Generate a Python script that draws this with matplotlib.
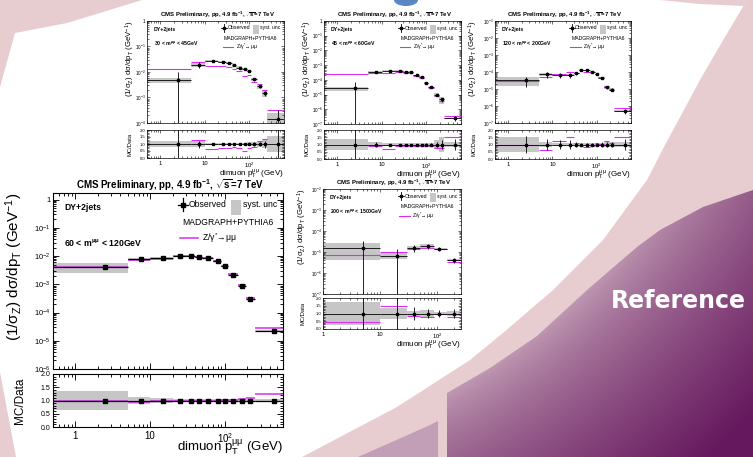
import numpy as np
import matplotlib
matplotlib.use("Agg")
import matplotlib.pyplot as plt
from matplotlib.patches import Polygon, Rectangle, Ellipse
from matplotlib.ticker import FuncFormatter, LogLocator, MultipleLocator, NullFormatter, FixedLocator

plt.rcParams['font.family'] = ['Liberation Sans', 'DejaVu Sans']
plt.rcParams['mathtext.fontset'] = 'custom'
plt.rcParams['mathtext.rm'] = 'Liberation Sans'
plt.rcParams['mathtext.it'] = 'Liberation Sans:italic'
plt.rcParams['mathtext.bf'] = 'Liberation Sans:bold'
plt.rcParams['mathtext.default'] = 'regular'

# ---- values -------------------------------------------------------------
pt_edges = [0, 5, 10, 20, 30, 40, 50, 70, 90, 110, 150, 190, 250, 600]
pt_centers = [2.5, 7.5, 15, 25, 35, 45, 60, 80, 100, 130, 170, 220, 450]

# 60 < m < 120 GeV (big plot)
xsec_60_120 = [4.1e-3, 7.6e-3, 8.3e-3, 9.8e-3, 9.8e-3, 9.2e-3, 8.5e-3, 6.7e-3, 4.3e-3, 2.2e-3, 8.9e-4, 2.9e-4, 2.3e-5]
mc_60_120 = [1.0, 0.94, 0.98, 1.0, 1.0, 1.0, 1.0, 1.0, 1.02, 1.03, 1.07, 1.10, 1.24]
syst_60_120 = [0.37, 0.12, 0.08, 0.05, 0.05, 0.05, 0.05, 0.05, 0.05, 0.05, 0.05, 0.05, 0.05]
stat_60_120 = [0.03, 0.03, 0.02, 0.02, 0.02, 0.02, 0.02, 0.02, 0.02, 0.03, 0.03, 0.04, 0.06]

# 30 < m < 45 GeV
xsec_30_45 = [4.9e-3, 1.9e-2, 2.7e-2, 2.4e-2, 2.2e-2, 1.8e-2, 1.5e-2, 1.3e-2, 1.1e-2, 5.2e-3, 2.8e-3, 1.5e-3, 1.5e-4]
mc_30_45 = [2.6, 1.31, 0.64, 0.71, 0.71, 0.76, 0.71, 0.52, 0.69, 0.81, 1.2, 1.36, 2.2]
syst_30_45 = [0.22, 0.2, 0.1, 0.1, 0.1, 0.1, 0.1, 0.1, 0.12, 0.12, 0.2, 0.3, 0.6]
stat_30_45 = [1.1, 0.25, 0.05, 0.05, 0.05, 0.05, 0.06, 0.08, 0.1, 0.12, 0.15, 0.25, 1.2]

# 45 < m < 60 GeV
xsec_45_60 = [2.6e-5, 3.5e-4, 4.3e-4, 4.1e-4, 3.5e-4, 3.5e-4, 2.0e-4, 1.6e-4, 6.6e-5, 3.1e-5, 1.0e-5, 4.7e-6, 2.4e-7]
mc_45_60 = [9.0, 0.88, 0.7, 0.88, 0.88, 0.88, 0.88, 0.9, 0.9, 0.9, 0.76, 0.76, 1.5]
syst_45_60 = [0.35, 0.15, 0.1, 0.1, 0.1, 0.1, 0.1, 0.1, 0.1, 0.12, 0.3, 0.5, 0.15]
stat_45_60 = [1.8, 0.2, 0.05, 0.05, 0.05, 0.05, 0.05, 0.06, 0.08, 0.1, 0.15, 0.3, 0.35]

# 120 < m < 200 GeV
xsec_120_200 = [3.3e-5, 7.4e-5, 6.4e-5, 6.4e-5, 8.4e-5, 1.4e-4, 1.25e-4, 1.05e-4, 7.4e-5, 4.7e-5, 1.25e-5, 9.2e-6, 4.9e-7]
mc_120_200 = [0.95, 0.65, 1.25, 1.5, 1.1, 0.88, 0.85, 0.9, 1.1, 1.05, 1.25, 1.1, 1.5]
syst_120_200 = [0.55, 0.2, 0.12, 0.12, 0.1, 0.08, 0.08, 0.08, 0.1, 0.1, 0.2, 0.2, 0.15]
stat_120_200 = [0.6, 0.4, 0.3, 0.3, 0.2, 0.1, 0.1, 0.1, 0.12, 0.15, 0.2, 0.2, 0.35]

# 200 < m < 1500 GeV (coarser bins)
pt_edges_hi = [0, 10, 30, 50, 90, 150, 260]
pt_centers_hi = [5, 20, 40, 70, 110, 200]
xsec_200_1500 = [1.6e-5, 6.8e-6, 1.6e-5, 1.95e-5, 1.4e-5, 4.2e-6]
mc_200_1500 = [0.45, 1.5, 0.83, 0.76, 0.95, 0.76]
syst_200_1500 = [0.75, 0.35, 0.15, 0.2, 0.1, 0.15]
stat_200_1500 = [1.0, 1.1, 0.4, 0.3, 0.2, 0.3]

TITLE = r"CMS Preliminary, pp, 4.9 fb$^{-1}$, $\sqrt{s}$=7 TeV"
GRAY = '#c6c6c6'
MAG = '#d92ef2'
PINK = '#e8cdd0'

W, H = 753, 457
fig = plt.figure(figsize=(W / 100, H / 100), dpi=100)
fig.patch.set_facecolor('white')

# ---- slide background -----------------------------------------------------
bg = fig.add_axes([0, 0, 1, 1], zorder=0)
bg.add_patch(Polygon([(0, 0), (142, 0), (100, 13), (67, 23), (15, 33), (0, 87)], fc=PINK, ec='none'))
bg.add_patch(Polygon([(0, 372), (16, H), (0, H)], fc=PINK, ec='none'))
bg.add_patch(Polygon([(660, 0), (747, 0), (744, 6), (700, 4)], fc=PINK, ec='none'))
arc_in = [(747, 0), (722, 42), (700, 80), (665, 145), (647, 180), (603, 240), (553, 290),
          (503, 333), (470, 360), (397, 407), (302, H)]
bg.add_patch(Polygon(arc_in + [(W, H), (W, 0)], fc=PINK, ec='none'))
bg.add_patch(Polygon([(358, H), (428, 426), (438, 421), (438, H)], fc='#c29fb6', ec='none'))
arc_out = [(W, 190), (703, 207), (660, 230), (637, 247), (587, 290), (537, 336), (490, 368),
           (447, 393), (447, H), (W, H)]
purple = Polygon(arc_out, fc='none', ec='none')
bg.add_patch(purple)
gx, gy = np.meshgrid(np.arange(440, W + 1), np.arange(185, H + 1))
t = np.clip((np.hypot(gx - 150, gy + 150) - 615) / 210, 0, 1) ** 0.7
c0 = np.array([196, 160, 183]) / 255
c1 = np.array([102, 24, 94]) / 255
img = c0 + (c1 - c0) * t[..., None]
im = bg.imshow(img, extent=(440, W + 1, H + 1, 185), interpolation='bilinear', zorder=1)
im.set_clip_path(purple)
bg.add_patch(Ellipse((406, 0), 24, 12, fc='#5a86c4', ec='none'))
bg.text(678, 301, 'Reference', color='white', fontsize=17, fontweight='bold',
        family='DejaVu Sans', ha='center', va='center', zorder=3)
bg.set_aspect('auto')
bg.set_xlim(0, W)
bg.set_ylim(H, 0)
bg.axis('off')


def px_rect(x0, y0, x1, y1):
    return [x0 / W, 1 - y1 / H, (x1 - x0) / W, (y1 - y0) / H]


def log_fmt(v, pos):
    e = int(round(np.log10(v)))
    if e == 0:
        return '1'
    if e == 1:
        return '10'
    return r'$10^{%d}$' % e


BIG = dict(title=7, tick=7, ytick=5.5, rtick=5, xlabel=9.5, ylabel=11, mcdata=8.5, legend=6.2,
           lw=0.9, ms=2.6, mlw=1.1, tl=4, spine=0.8, pad=3, ypad=2)
SMALL = dict(title=4.3, tick=4.2, ytick=3.3, rtick=3, xlabel=5.8, ylabel=5.6, mcdata=4.2, legend=3.7,
             lw=0.6, ms=1.6, mlw=0.8, tl=2.4, spine=0.5, pad=2, ypad=1.2)


def cms_plot(up, lo, edges, xs, ys, mc, syst, stat, ylim, xlim, mass, st, ylab_dx, mc_dx, mass_y):
    ax = fig.add_axes(px_rect(*up))
    rx = fig.add_axes(px_rect(*lo))
    ed = np.clip(np.asarray(edges, float), xlim[0], xlim[1])
    left, right = ed[:-1], ed[1:]
    xs = np.asarray(xs, float)
    ys = np.asarray(ys, float)
    mc = np.asarray(mc, float)
    syst = np.asarray(syst, float)
    stat = np.asarray(stat, float)
    floor = ylim[0] * 0.1

    for l, r, y, sy in zip(left, right, ys, syst):
        ax.fill_between([l, r], max(y * (1 - sy), floor), y * (1 + sy), color=GRAY, lw=0, zorder=1)
        rx.fill_between([l, r], 1 - sy, 1 + sy, color=GRAY, lw=0, zorder=1)
    ax.hlines(ys * mc, left, right, color=MAG, lw=st['mlw'], zorder=2)
    rx.hlines(mc, left, right, color=MAG, lw=st['mlw'], zorder=2)
    ax.hlines(ys, left, right, color='k', lw=st['lw'], zorder=3)
    ax.vlines(xs, np.maximum(ys * (1 - stat), floor), ys * (1 + stat), color='k', lw=st['lw'], zorder=3)
    ax.plot(xs, ys, 's', color='k', ms=st['ms'], zorder=4)
    ones = np.ones_like(ys)
    rx.hlines(ones, left, right, color='k', lw=st['lw'], zorder=3)
    rx.vlines(xs, 1 - stat, 1 + stat, color='k', lw=st['lw'], zorder=3)
    rx.plot(xs, ones, 's', color='k', ms=st['ms'], zorder=4)

    for a in (ax, rx):
        a.set_xscale('log')
        a.set_xlim(xlim)
        a.xaxis.set_major_locator(LogLocator(base=10, numticks=20))
        a.xaxis.set_minor_locator(LogLocator(base=10, subs=np.arange(2, 10), numticks=50))
        a.xaxis.set_major_formatter(FuncFormatter(log_fmt))
        a.xaxis.set_minor_formatter(NullFormatter())
        a.tick_params(which='both', direction='in', top=True, right=True, width=st['spine'] * 0.8)
        a.tick_params(which='major', length=st['tl'])
        a.tick_params(which='minor', length=st['tl'] * 0.5)
        for sp in a.spines.values():
            sp.set_linewidth(st['spine'])
    ax.set_yscale('log')
    ax.set_ylim(ylim)
    ax.yaxis.set_major_locator(LogLocator(base=10, numticks=20))
    ax.yaxis.set_minor_locator(LogLocator(base=10, subs=np.arange(2, 10), numticks=50))
    ax.yaxis.set_major_formatter(FuncFormatter(log_fmt))
    ax.yaxis.set_minor_formatter(NullFormatter())
    ax.tick_params(axis='x', labelbottom=False)
    ax.tick_params(axis='y', labelsize=st['ytick'], pad=st['ypad'])
    rx.set_ylim(0, 2)
    rx.yaxis.set_major_locator(FixedLocator([0, 0.5, 1, 1.5, 2]))
    rx.yaxis.set_minor_locator(MultipleLocator(0.1))
    rx.yaxis.set_major_formatter(FuncFormatter(lambda v, p: '%.1f' % v))
    rx.tick_params(axis='y', labelsize=st['rtick'], pad=st['ypad'])
    rx.tick_params(axis='x', labelsize=st['tick'], pad=st['pad'])

    # legend and labels inside the upper pad
    tr = ax.transAxes
    fs = st['legend']
    ax.text(0.05, 0.915, 'DY+2jets', transform=tr, fontsize=fs, weight='bold', va='center')
    ax.text(0.05, mass_y, r'%s < m$^{\mu\mu}$ < %sGeV' % mass, transform=tr, fontsize=fs,
            weight='bold', va='center')
    ax.plot([0.543, 0.587], [0.932, 0.932], color='k', lw=st['lw'], transform=tr)
    ax.plot([0.565, 0.565], [0.895, 0.97], color='k', lw=st['lw'], transform=tr)
    ax.plot([0.565], [0.932], 's', color='k', ms=st['ms'], transform=tr)
    ax.text(0.59, 0.932, 'Observed', transform=tr, fontsize=fs, va='center')
    ax.add_patch(Rectangle((0.775, 0.875), 0.042, 0.085, transform=tr, fc=GRAY, ec='none'))
    ax.text(0.824, 0.932, 'syst. unc', transform=tr, fontsize=fs, va='center')
    ax.text(0.56, 0.83, 'MADGRAPH+PYTHIA6', transform=tr, fontsize=fs, va='center')
    ax.plot([0.552, 0.63], [0.745, 0.745], color=MAG, lw=st['mlw'], transform=tr)
    ax.text(0.648, 0.745, r'Z/$\gamma^{*}\!\rightarrow\!\mu\mu$', transform=tr, fontsize=fs, va='center')

    x0, y0, x1, y1 = up
    bg.text((x0 + x1) / 2 + 2, y0 - (3 + 5 * st['title'] / 7), TITLE, fontsize=st['title'],
            weight='bold', ha='center', va='center', zorder=5)
    bg.text(x0 + ylab_dx, y0, r'(1/$\sigma_{Z}$) d$\sigma$/dp$_{T}$ (GeV$^{-1}$)', rotation=90,
            fontsize=st['ylabel'], ha='center', va='top', zorder=5)
    lx0, ly0, lx1, ly1 = lo
    bg.text(lx0 + mc_dx, (ly0 + ly1) / 2, 'MC/Data', rotation=90, fontsize=st['mcdata'],
            ha='center', va='center', zorder=5)
    bg.text(lx1, ly1 + 10 + 10 * st['title'] / 7, r'dimuon p$_{T}^{\mu\mu}$ (GeV)', fontsize=st['xlabel'],
            ha='right', va='center', zorder=5)
    return ax, rx


cms_plot((53, 193, 283, 369), (53, 374, 283, 427), pt_edges, pt_centers, xsec_60_120, mc_60_120,
         syst_60_120, stat_60_120, (1e-6, 1.7), (0.5, 600), ('60', '120'), BIG, -39, -33, 0.72)
cms_plot((147, 21, 284, 123), (147, 130, 284, 158), pt_edges, pt_centers, xsec_30_45, mc_30_45,
         syst_30_45, stat_30_45, (1e-4, 1), (0.5, 600), ('30', '45'), SMALL, -17, -17, 0.78)
cms_plot((324, 21, 461, 124), (324, 130, 461, 159), pt_edges, pt_centers, xsec_45_60, mc_45_60,
         syst_45_60, stat_45_60, (1e-7, 1), (0.5, 600), ('45', '60'), SMALL, -17, -17, 0.78)
cms_plot((495, 21, 631, 123), (495, 130, 631, 159), pt_edges, pt_centers, xsec_120_200, mc_120_200,
         syst_120_200, stat_120_200, (1e-7, 1e-1), (0.5, 600), ('120', '200'), SMALL, -22, -21, 0.78)
cms_plot((323, 189, 461, 294), (323, 298, 461, 329), pt_edges_hi, pt_centers_hi, xsec_200_1500,
         mc_200_1500, syst_200_1500, stat_200_1500, (1e-7, 1e-2), (1, 265), ('200', '1500'), SMALL,
         -21, -20, 0.78)

fig.savefig('out.png', dpi=100)
